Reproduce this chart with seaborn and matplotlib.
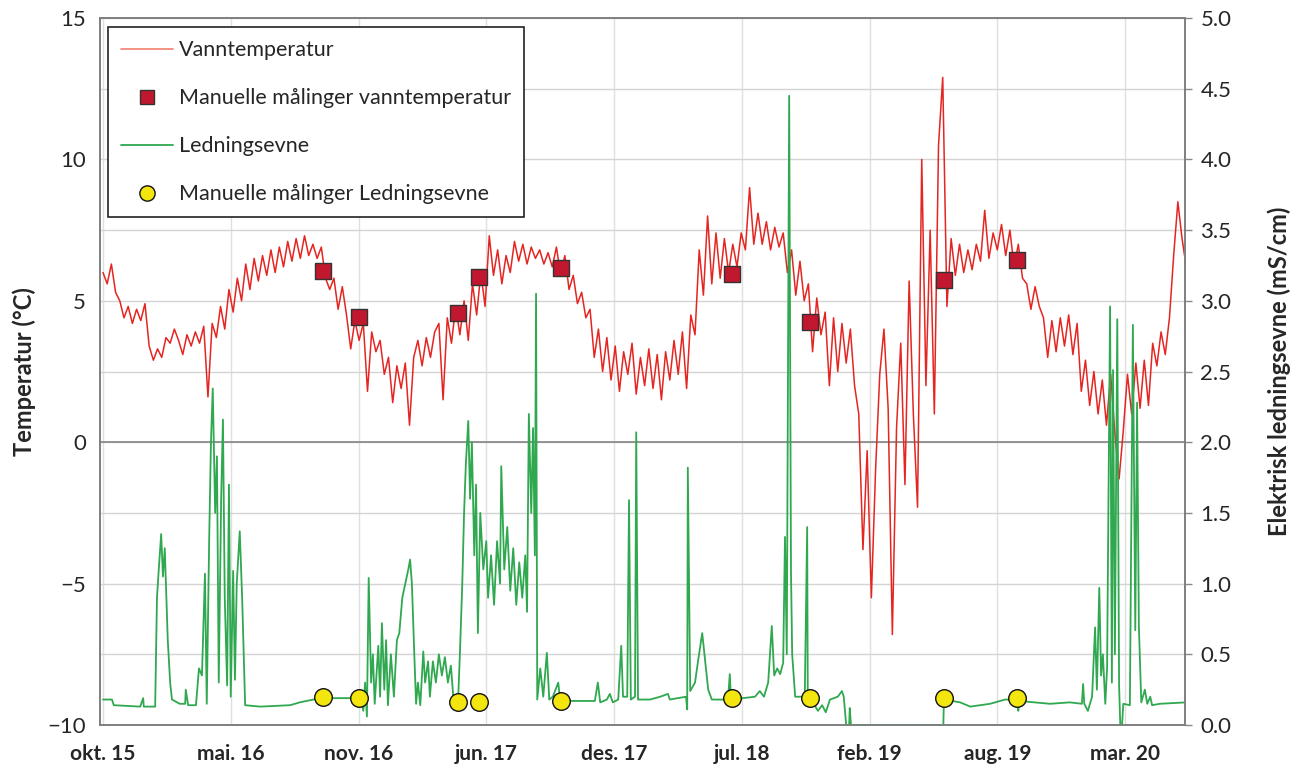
import numpy as np
import pandas as pd
import seaborn as sns
import matplotlib
matplotlib.use("Agg")
import matplotlib.pyplot as plt
from matplotlib.ticker import FormatStrFormatter, MultipleLocator
from matplotlib.lines import Line2D

# x axis: days since start of record (okt. 15), one label every 213 days
tick_labels = ["okt. 15", "mai. 16", "nov. 16", "jun. 17", "des. 17",
               "jul. 18", "feb. 19", "aug. 19", "mar. 20"]
tick_days = [0, 213, 426, 639, 852, 1065, 1278, 1491, 1704]

# logged water temperature, one reading every 7 days (°C)
temp_vals = [
    6.0, 5.6, 6.3, 5.3, 5.0, 4.4, 4.8, 4.2, 4.7, 4.3,
    4.9, 3.4, 2.9, 3.3, 3.0, 3.7, 3.5, 4.0, 3.6, 3.1,
    3.8, 3.4, 3.9, 3.5, 4.1, 1.6, 4.2, 3.7, 4.8, 4.0,
    5.4, 4.6, 5.8, 5.0, 6.3, 5.4, 6.5, 5.7, 6.6, 5.9,
    6.8, 6.0, 6.9, 6.2, 7.1, 6.4, 7.2, 6.5, 7.3, 6.6,
    7.0, 6.5, 6.9, 5.8, 5.4, 5.8, 4.7, 5.5, 4.5, 3.3,
    4.3, 3.6, 4.2, 1.8, 3.9, 3.2, 3.6, 2.4, 3.0, 1.4,
    2.7, 1.9, 2.8, 0.6, 3.0, 3.6, 2.7, 3.7, 3.0, 3.9,
    4.2, 1.5, 4.4, 3.5, 4.8, 3.8, 5.0, 3.6, 5.6, 4.5,
    6.0, 4.8, 7.3, 5.9, 6.8, 5.6, 6.6, 6.0, 7.1, 6.4,
    7.0, 6.3, 6.9, 6.5, 6.8, 6.3, 6.7, 6.2, 6.9, 5.9,
    6.6, 5.4, 5.9, 4.9, 5.3, 4.4, 4.7, 3.0, 4.0, 2.5,
    3.7, 2.2, 3.4, 1.8, 3.2, 2.4, 3.5, 1.7, 3.0, 2.0,
    3.3, 1.9, 3.1, 1.5, 3.2, 2.2, 3.6, 2.4, 3.9, 1.9,
    4.5, 3.8, 6.8, 5.2, 8.0, 5.6, 7.4, 5.8, 7.2, 6.0,
    7.0, 6.2, 7.4, 6.8, 9.0, 7.0, 8.1, 7.0, 7.8, 6.8,
    7.6, 6.9, 7.4, 6.0, 6.8, 5.2, 6.4, 5.0, 5.6, 3.2,
    5.1, 3.8, 4.6, 2.0, 4.4, 2.5, 4.2, 2.8, 4.0, 2.0,
    1.0, -3.8, -0.3, -5.5, -1.0, 2.4, 4.0, 1.2, -6.8, 0.5,
    3.5, -1.5, 5.7, 1.0, -2.3, 10.0, 2.0, 7.5, 1.0, 10.5,
    12.9, 4.8, 7.2, 5.9, 7.0, 6.0, 6.8, 6.1, 7.0, 6.4,
    8.2, 6.5, 7.4, 6.8, 7.7, 6.6, 7.5, 6.2, 7.0, 5.8,
    5.6, 4.7, 5.5, 4.8, 4.4, 3.0, 4.3, 3.2, 4.4, 3.4,
    4.5, 3.1, 4.2, 1.8, 2.9, 1.3, 2.5, 1.0, 2.2, 0.6,
    2.4, 0.3, -1.3, 0.4, 2.4, 1.0, 2.8, 1.2, 2.9, 1.3,
    3.5, 2.7, 3.9, 3.1, 4.4, 6.6, 8.5, 7.2, 6.2,
]
temp_days = np.arange(len(temp_vals)) * 7

# logged conductivity (mS/cm)
cond_days = [
    0, 15, 18, 62, 67, 68, 87, 90, 93, 97, 100, 103, 108, 112, 115, 128,
    137, 138, 142, 155, 160, 165, 170, 173, 177, 180, 183, 187, 190, 193,
    197, 200, 203, 207, 210, 213, 217, 220, 223, 228, 232, 237, 262, 312,
    328, 362, 430, 434, 437, 440, 443, 447, 450, 453, 459, 462, 465, 469,
    472, 475, 480, 485, 490, 494, 499, 504, 509, 512, 515, 519, 522, 525,
    529, 534, 537, 542, 545, 550, 555, 560, 565, 570, 575, 580, 584, 587,
    592, 595, 599, 602, 605, 609, 612, 615, 619, 622, 625, 629, 634, 639,
    642, 647, 652, 657, 662, 664, 669, 674, 679, 684, 689, 694, 699, 704,
    707, 710, 714, 717, 720, 722, 724, 729, 734, 740, 744, 750, 759, 762,
    770, 820, 825, 829, 840, 845, 850, 859, 864, 867, 874, 877, 880, 887,
    889, 892, 912, 929, 942, 945, 972, 974, 975, 979, 987, 992, 999, 1004,
    1009, 1015, 1042, 1045, 1047, 1087, 1095, 1102, 1109, 1115, 1119, 1124,
    1129, 1134, 1137, 1140, 1144, 1147, 1149, 1154, 1170, 1174, 1175, 1185,
    1192, 1199, 1205, 1212, 1225, 1232, 1235, 1239, 1244, 1245, 1247, 1401,
    1402, 1429, 1446, 1479, 1504, 1524, 1526, 1527, 1579, 1612, 1632, 1634,
    1636, 1642, 1649, 1654, 1657, 1661, 1664, 1667, 1671, 1674, 1679, 1682,
    1684, 1687, 1691, 1694, 1696, 1699, 1701, 1712, 1717, 1721, 1724, 1727,
    1731, 1737, 1741, 1746, 1749, 1762, 1806,
]
cond_vals = [
    0.18, 0.18, 0.14, 0.13, 0.19, 0.13, 0.13, 0.90, 1.10, 1.35, 1.05, 1.25, 0.60, 0.30, 0.18, 0.15,
    0.15, 0.25, 0.14, 0.14, 0.40, 0.35, 1.07, 0.15, 1.30, 2.00, 2.38, 1.50, 1.90, 0.30,
    1.60, 2.16, 0.90, 0.28, 1.70, 0.20, 1.09, 0.32, 1.00, 1.37, 0.90, 0.14, 0.13, 0.14,
    0.16, 0.19, 0.19, 0.10, 0.30, 0.06, 1.04, 0.30, 0.50, 0.15, 0.56, 0.20, 0.72, 0.25,
    0.60, 0.14, 0.50, 0.20, 0.60, 0.65, 0.90, 1.00, 1.10, 1.17, 1.00, 0.50, 0.15, 0.30,
    0.14, 0.52, 0.30, 0.45, 0.20, 0.45, 0.30, 0.50, 0.35, 0.48, 0.30, 0.42, 0.20, 0.16,
    0.17, 0.50, 1.00, 1.50, 1.85, 2.15, 1.60, 2.00, 1.20, 1.70, 0.65, 1.50, 1.10, 1.30,
    0.90, 1.20, 0.85, 1.30, 1.00, 1.83, 1.10, 1.40, 0.95, 1.25, 0.85, 1.15, 0.90, 1.20,
    0.80, 2.20, 1.50, 2.10, 1.20, 3.05, 0.18, 0.40, 0.20, 0.51, 0.18, 0.20, 0.30, 0.18,
    0.17, 0.17, 0.30, 0.16, 0.18, 0.22, 0.16, 0.18, 0.56, 0.20, 0.20, 1.59, 0.18, 0.20,
    2.07, 0.18, 0.18, 0.20, 0.22, 0.18, 0.20, 0.11, 1.82, 0.24, 0.30, 0.45, 0.65, 0.45,
    0.25, 0.18, 0.18, 0.36, 0.18, 0.20, 0.24, 0.20, 0.30, 0.70, 0.35, 0.40,
    0.36, 0.44, 1.33, 0.50, 4.45, 1.09, 0.50, 0.20, 0.20, 1.40, 0.20, 0.15,
    0.10, 0.14, 0.09, 0.18, 0.20, 0.24, 0.20, 0.00, 0.00, 0.12, 0.00, 0.00,
    0.18, 0.16, 0.13, 0.15, 0.18, 0.18, 0.10, 0.17, 0.15, 0.16, 0.15, 0.29,
    0.15, 0.10, 0.20, 0.69, 0.25, 0.97, 0.35, 0.50, 0.15, 0.40, 2.96, 0.30,
    2.51, 0.50, 2.87, 0.28, 0.00, 0.00, 0.15, 0.14, 2.83, 0.67, 2.28, 0.70,
    0.16, 0.25, 0.15, 0.20, 0.14, 0.15, 0.16,
]

# manual field measurements
manual_days = [367, 427, 592, 627, 764, 1049, 1179, 1402, 1524]
manual_temp = [6.05, 4.42, 4.56, 5.84, 6.16, 5.95, 4.25, 5.74, 6.44]
manual_cond = [0.20, 0.19, 0.16, 0.16, 0.17, 0.19, 0.19, 0.19, 0.19]

temp_df = pd.DataFrame({"dag": temp_days, "temp": temp_vals})
cond_df = pd.DataFrame({"dag": cond_days, "cond": cond_vals})
man_df = pd.DataFrame({"dag": manual_days, "temp": manual_temp, "cond": manual_cond})

sns.set_style("white")
plt.rcParams["font.family"] = ["Lato", "DejaVu Sans"]

red = "#E52521"
green = "#2FA84F"

fig = plt.figure(figsize=(13.07, 7.73), dpi=100)
ax = fig.add_axes([0.0765, 0.0621, 0.8302, 0.9146])
ax2 = ax.twinx()

sns.lineplot(data=temp_df, x="dag", y="temp", ax=ax, color=red, lw=1.1,
             estimator=None, sort=False)
sns.scatterplot(data=man_df, x="dag", y="temp", ax=ax, marker="s", s=120,
                color="#C1172F", edgecolor="#333333", linewidth=1.0, zorder=5)
sns.lineplot(data=cond_df, x="dag", y="cond", ax=ax2, color=green, lw=1.3,
             estimator=None, sort=False)
sns.scatterplot(data=man_df, x="dag", y="cond", ax=ax2, marker="o", s=160,
                color="#F3E60F", edgecolor="#111111", linewidth=1.0, zorder=5)

ax.set_xlim(-5, 1804)
ax.set_ylim(-10, 15)
ax2.set_ylim(0, 5)

ax.set_xticks(tick_days)
ax.set_xticklabels(tick_labels, fontsize=15, fontweight="bold")
ax.set_yticks([-10, -5, 0, 5, 10, 15])
ax.yaxis.set_minor_locator(MultipleLocator(2.5))
ax2.yaxis.set_major_locator(MultipleLocator(0.5))
ax2.yaxis.set_major_formatter(FormatStrFormatter("%.1f"))

ax.tick_params(axis="x", length=0, pad=14)
ax.tick_params(axis="y", which="both", length=0, labelsize=16, pad=10)
ax2.tick_params(axis="y", length=5, width=1, color="#888888", direction="out",
                labelsize=16, pad=6)

ax.grid(True, which="both", axis="y", color="#D4D4D4", lw=1.0)
ax.grid(True, which="major", axis="x", color="#E0E0E0", lw=1.0)
ax.axhline(0, color="#8C8C8C", lw=1.3, zorder=1)
ax.set_axisbelow(True)

ax.set_xlabel("")
ax.set_ylabel("Temperatur (°C)", fontsize=17, fontweight="bold", labelpad=8)
ax2.set_ylabel("Elektrisk ledningsevne (mS/cm)", fontsize=17, fontweight="bold", labelpad=26)

for a in (ax, ax2):
    for sp in a.spines.values():
        sp.set_color("#7F7F7F")
        sp.set_linewidth(1.2)
        sp.set_visible(True)

handles = [
    Line2D([], [], color="#F08070", lw=1.2),
    Line2D([], [], ls="none", marker="s", ms=10, mfc="#C1172F", mec="#333333"),
    Line2D([], [], color=green, lw=1.3),
    Line2D([], [], ls="none", marker="o", ms=11, mfc="#F3E60F", mec="#111111"),
]
labels = ["Vanntemperatur", "Manuelle målinger vanntemperatur",
          "Ledningsevne", "Manuelle målinger Ledningsevne"]
leg = ax2.legend(handles, labels, loc="upper left", bbox_to_anchor=(0.0074, 0.987),
                 borderaxespad=0, fontsize=15.5, frameon=True, fancybox=False,
                 framealpha=1, edgecolor="#222222", labelspacing=1.3,
                 handlelength=2.4, handletextpad=0.3, borderpad=0.6)
leg.get_frame().set_linewidth(1.2)

fig.savefig("out.png", dpi=100)
